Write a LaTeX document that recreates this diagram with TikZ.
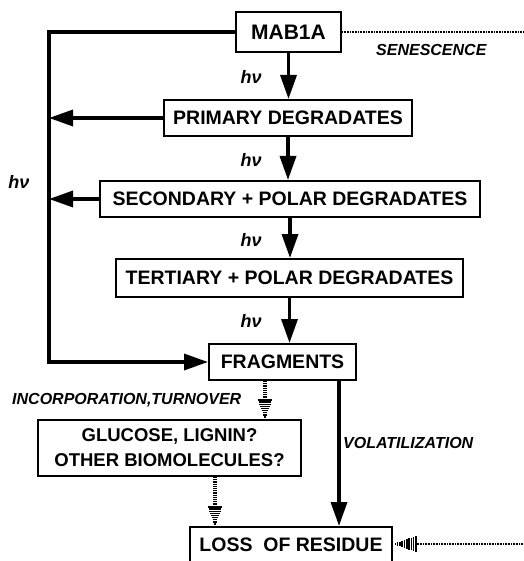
\documentclass[tikz,border=0pt]{standalone}
\usepackage{fontspec}
\setmainfont{Liberation Sans}
\usetikzlibrary{arrows.meta,calc}
\tikzset{
  box/.style={draw, line width=2pt, inner sep=0pt, font=\bfseries\fontsize{19.5}{22}\selectfont, align=center},
  flow/.style={line width=3.4pt, -{Triangle[length=24pt,width=16pt]}},
  feed/.style={line width=3.4pt},
  lbl/.style={font=\bfseries\itshape\fontsize{16}{18}\selectfont, inner sep=0pt},
  hvlbl/.style={font=\bfseries\itshape\fontsize{18}{20}\selectfont, inner sep=0pt},
  stem/.style={line width=4.5pt, dash pattern=on 1.2pt off 1pt},
  dotline/.style={line width=2pt, dash pattern=on 0.9pt off 0.7pt},
  stripe/.style={line width=1.5pt}
}
\newcommand\hatchdown[1]{%
  \foreach \i in {0,...,9}{\draw[stripe] ($(#1)+(-0.8*\i,-2.1*\i)$) -- ($(#1)+(0.8*\i,-2.1*\i)$);}}
\newcommand\hatchleft[1]{%
  \foreach \i in {0,...,10}{\draw[stripe] ($(#1)+(2.3*\i,-0.8*\i)$) -- ($(#1)+(2.3*\i,0.8*\i)$);}}
\begin{document}
\begin{tikzpicture}[x=1pt,y=-1pt]
\useasboundingbox (0,0) rectangle (523,561);
% boxes
\node[box, minimum width=105pt, minimum height=40pt, font=\bfseries\fontsize{21}{24}\selectfont] (mab) at (288.5,32) {MAB1A};
\node[box, minimum width=248pt, minimum height=36pt] (prim) at (288,118) {PRIMARY DEGRADATES};
\node[box, minimum width=380pt, minimum height=36pt] (sec) at (290,199) {SECONDARY + POLAR DEGRADATES};
\node[box, minimum width=347pt, minimum height=38pt] (ter) at (289.5,278) {TERTIARY + POLAR DEGRADATES};
\node[box, minimum width=147pt, minimum height=36pt] (frag) at (282.5,362) {FRAGMENTS};
\node[box, minimum width=263pt, minimum height=56pt, font=\bfseries\fontsize{18.5}{25}\selectfont] (gluc) at (169.5,448) {GLUCOSE, LIGNIN?\\OTHER BIOMOLECULES?};
\node[box, anchor=base, minimum width=202pt, text height=24pt, text depth=22pt] (loss) at (291,551) {LOSS\ \ OF RESIDUE};
% main chain
\draw[flow] (mab.south) -- (mab.south |- prim.north);
\draw[flow] (prim.south) -- (prim.south |- sec.north);
\draw[flow] (sec.south) -- (sec.south |- ter.north);
\draw[flow] (ter.south) -- (ter.south |- frag.north);
% feedback loop
\coordinate (fbtop) at (49,32);
\draw[feed, line cap=rect] (mab.west) -- (fbtop) -- (fbtop |- frag.west);
\draw[flow] (fbtop |- frag.west) -- (frag.west);
\draw[flow] (prim.west) -- (prim.west -| fbtop);
\draw[flow] (sec.west) -- (sec.west -| fbtop);
% volatilization
\coordinate (vtop) at ($(frag.south east)+(-18,0)$);
\draw[flow] (vtop) -- (vtop |- loss.north);
% hatched arrows
\coordinate (h1top) at ($(frag.south west)+(57,0)$);
\coordinate (h1tip) at (h1top |- gluc.north);
\draw[stem] (h1top) -- ($(h1tip)+(0,-19)$);
\hatchdown{h1tip}
\coordinate (h2top) at ($(gluc.south west)+(178,0)$);
\coordinate (h2tip) at (h2top |- loss.north);
\draw[stem] (h2top) -- ($(h2tip)+(0,-19)$);
\hatchdown{h2tip}
% senescence
\coordinate (senend) at (523,32);
\draw[dotline] (mab.east) -- (senend);
% bottom input
\coordinate (ltip) at ($(loss.base east)+(0,-7)$);
\coordinate (lend) at (ltip -| senend);
\draw[dotline] (lend) -- ($(ltip)+(23,0)$);
\hatchleft{ltip}
% labels
\node[hvlbl] (hv1) at (251,77) {hν};
\node[hvlbl] (hv2) at (251,160) {hν};
\node[hvlbl] (hv3) at (251,240) {hν};
\node[hvlbl] (hv4) at (251,321) {hν};
\node[hvlbl] (hv5) at (19,182) {hν};
\node[lbl, anchor=west] (sen) at (376,50) {SENESCENCE};
\node[lbl, anchor=west] (inc) at (12,400) {INCORPORATION,TURNOVER};
\node[lbl, anchor=west] (vol) at (343,443) {VOLATILIZATION};
\end{tikzpicture}
\end{document}
